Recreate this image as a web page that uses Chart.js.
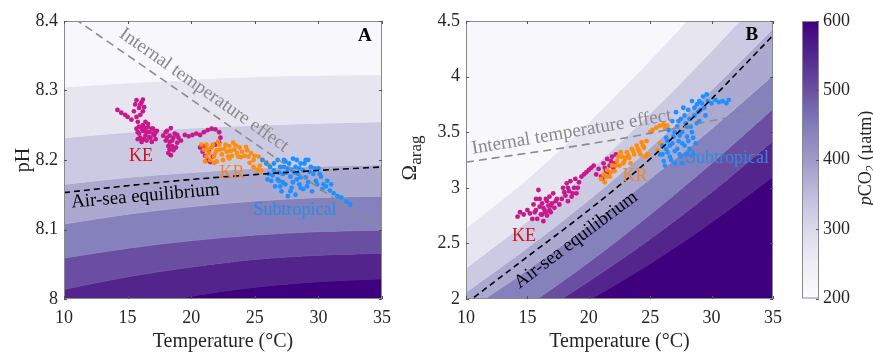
<!DOCTYPE html>
<html>
<head>
<meta charset="utf-8">
<script src="https://cdn.jsdelivr.net/npm/chart.js@4.4.1/dist/chart.umd.min.js"></script>
<style>
  body { margin: 0; background: #fff; }
  #wrap { position: relative; width: 873px; height: 353px; }
  canvas { position: absolute; top: 0; }
</style>
</head>
<body>
<div id="wrap">
  <canvas id="chartA" width="400" height="353" style="left:0"></canvas>
  <canvas id="chartB" width="390" height="353" style="left:400px"></canvas>
  <canvas id="chartC" width="83" height="353" style="left:790px"></canvas>
</div>
<script>
// temperature grid for the pCO2 contour boundaries
const temps = [10, 15, 20, 25, 30, 35];

// panel A: pH at each pCO2 contour (lowest pCO2 first)
const phLevel1 = [8.305, 8.311, 8.316, 8.320, 8.322, 8.323];
const phLevel2 = [8.232, 8.240, 8.246, 8.250, 8.253, 8.255];
const phLevel3 = [8.165, 8.175, 8.182, 8.188, 8.191, 8.193];
const phLevel4 = [8.108, 8.122, 8.133, 8.141, 8.146, 8.148];
const phLevel5 = [8.059, 8.073, 8.084, 8.092, 8.097, 8.099];
const phLevel6 = [8.014, 8.032, 8.046, 8.057, 8.063, 8.066];
const phLevel7 = [7.962, 7.985, 8.004, 8.017, 8.025, 8.029];

// panel B: aragonite saturation at the same contours
const omLevel1 = [2.637, 3.08, 3.59, 4.15, 4.74, 5.35];
const omLevel2 = [2.278, 2.70, 3.15, 3.67, 4.23, 4.83];
const omLevel3 = [2.06, 2.46, 2.89, 3.36, 3.88, 4.43];
const omLevel4 = [1.89, 2.26, 2.66, 3.08, 3.53, 4.01];
const omLevel5 = [1.58, 1.94, 2.33, 2.76, 3.22, 3.71];
const omLevel6 = [1.50, 1.81, 2.16, 2.54, 2.96, 3.42];
const omLevel7 = [1.20, 1.69, 1.99, 2.32, 2.69, 3.10];

// dashed reference lines
const eqA = [8.153, 8.163, 8.172, 8.179, 8.185, 8.190];
const eqB = [1.96, 2.38, 2.80, 3.26, 3.80, 4.37];
const itempA_T = [10, 35];
const itempA = [8.414, 8.097];
const itempB_T = [10, 22.5, 35];
const itempB = [3.23, 3.44, 3.715];

// observations [temperature, value]
const keA = [[14.2,8.272],[14.5,8.268],[14.8,8.265],[15.0,8.262],[15.3,8.258],[15.5,8.27],[15.6,8.28],[15.7,8.286],[15.9,8.275],[16.1,8.283],[16.2,8.287],[16.3,8.276],[16.0,8.265],[15.8,8.255],[16.0,8.28],[16.2,8.27],[15.7,8.262],
  [15.7,8.245],[15.9,8.238],[16.0,8.232],[16.2,8.25],[16.3,8.242],[16.4,8.235],[16.5,8.228],[16.6,8.247],[16.7,8.24],[16.8,8.232],[16.9,8.226],[17.0,8.245],[17.1,8.236],[17.2,8.23],[17.3,8.242],[16.1,8.226],[16.4,8.255],[15.8,8.23],
  [15.9,8.248],[16.2,8.242],[16.5,8.24],[16.7,8.233],[17.0,8.238],[16.3,8.23],[16.6,8.252],[16.9,8.245],[17.2,8.24],[15.8,8.24],[16.1,8.245],[16.4,8.246],
  [17.8,8.235],[18.0,8.228],[18.1,8.242],[18.2,8.22],[18.3,8.235],[18.4,8.246],[18.5,8.228],[18.6,8.214],[18.4,8.207],[18.7,8.238],[18.9,8.225],[19.0,8.232],[19.2,8.228],[18.2,8.21],[18.8,8.218],
  [18.0,8.24],[18.3,8.226],[18.6,8.232],[18.5,8.22],[18.9,8.236],[18.3,8.215],[18.1,8.232],
  [19.5,8.236],[19.8,8.234],[20.1,8.236],[20.4,8.238],[20.7,8.236],[21.0,8.24],[21.3,8.243],[21.6,8.245],[21.9,8.244],[22.2,8.24],[22.3,8.232],[22.2,8.225],[21.9,8.222],
  [20.7,8.218],[20.9,8.212],[21.1,8.206],[21.3,8.2],[21.5,8.197],[21.0,8.22],[21.4,8.212],[21.7,8.205]];
const krA = [[20.8,8.222],[21.0,8.215],[21.2,8.222],[21.4,8.21],[21.6,8.218],[21.8,8.205],[22.0,8.214],[22.2,8.222],[22.4,8.208],[22.6,8.216],[22.8,8.212],[23.0,8.22],[23.2,8.206],[23.4,8.215],[23.6,8.21],[23.8,8.218],[24.0,8.212],[24.2,8.206],[24.4,8.214],[24.7,8.21],[25.0,8.206],[25.3,8.205],[25.6,8.2],[25.9,8.197],[26.1,8.193],
  [24.6,8.196],[24.9,8.19],[25.2,8.186],[25.5,8.185],[21.5,8.2],[22.0,8.198],[22.5,8.2],[23.0,8.202],[21.2,8.205],[23.9,8.204],[22.1,8.226],[23.3,8.225],
  [21.3,8.216],[21.7,8.222],[22.3,8.215],[22.7,8.222],[23.1,8.213],[23.5,8.221],[23.7,8.205],[24.3,8.219],[24.5,8.205],[21.9,8.21],[22.9,8.205],[24.9,8.2],[25.4,8.192],[21.1,8.198],[21.8,8.196]];
const stA = [[25.6,8.2],[25.9,8.195],[26.2,8.19],[26.1,8.18],[26.5,8.185],[26.8,8.2],[27.0,8.19],[27.2,8.18],[27.4,8.198],[27.6,8.188],[27.8,8.176],[28.0,8.202],[28.2,8.19],[28.4,8.18],[28.6,8.195],[28.8,8.185],[29.0,8.175],[29.2,8.2],[29.4,8.19],[29.6,8.18],[29.8,8.17],[30.0,8.188],[30.2,8.176],[30.4,8.165],
  [26.3,8.17],[26.6,8.162],[26.9,8.17],[27.1,8.155],[27.4,8.165],[27.6,8.148],[27.9,8.16],[28.2,8.15],[28.5,8.165],[28.8,8.158],[29.1,8.162],[29.5,8.155],
  [30.6,8.162],[30.9,8.156],[31.2,8.152],[31.5,8.148],[31.8,8.146],[32.2,8.14],[32.5,8.136],[31.0,8.165],[30.7,8.17],
  [26.8,8.172],[27.2,8.168],[27.5,8.182],[28.0,8.168],[28.3,8.172],[29.2,8.168],[26.0,8.172],[28.6,8.175],
  [26.5,8.195],[26.9,8.182],[27.3,8.19],[27.7,8.195],[28.1,8.182],[28.5,8.188],[28.9,8.195],[29.3,8.183],[29.7,8.188],[30.1,8.18],[27.0,8.162],[27.8,8.155],[28.6,8.16],[26.4,8.178],[27.9,8.186],[29.0,8.2],[29.9,8.165],[30.3,8.158],[27.3,8.2],[28.3,8.2]];
const keB = [[14.2,2.74],[14.4,2.78],[14.7,2.76],[15.0,2.8],[15.2,2.77],[15.4,2.72],[15.5,2.85],[15.6,2.78],[15.7,2.9],[15.8,2.72],[15.9,2.98],[16.0,2.83],[16.1,2.76],[16.2,2.86],[16.3,2.7],[16.4,2.8],[16.5,2.9],[16.6,2.75],[16.7,2.84],[16.8,2.92],[16.9,2.78],[17.0,2.86],[17.1,2.95],[17.2,2.82],[17.4,2.9],[17.6,2.85],
  [16.0,2.9],[16.3,2.82],[16.6,2.88],[16.9,2.84],[16.2,2.76],[16.5,2.78],[17.3,2.88],[15.7,2.8],[16.8,2.8],
  [17.8,2.9],[17.9,3.0],[18.1,2.93],[18.2,3.04],[18.3,2.88],[18.4,2.97],[18.5,3.06],[18.6,2.92],[18.8,3.0],[18.9,3.08],[19.0,2.95],[19.2,3.05],[18.0,2.96],[18.7,2.95],[18.3,3.0],[19.1,3.0],
  [19.4,3.1],[19.6,3.12],[19.8,3.14],[20.0,3.16],[20.2,3.18],[20.4,3.2],
  [20.6,3.12],[20.8,3.17],[21.0,3.1],[21.2,3.22],[21.4,3.15],[21.5,3.26],[21.7,3.2],[21.9,3.28],[22.1,3.22],[22.2,3.3],[21.1,3.08],[21.3,3.18],[21.6,3.14],[21.8,3.24],[22.0,3.18]];
const krB = [[21.0,3.08],[21.2,3.12],[21.3,3.05],[21.5,3.16],[21.7,3.1],[21.9,3.2],[22.1,3.15],[22.3,3.24],[22.5,3.2],[22.7,3.28],[22.9,3.24],[23.1,3.32],[23.3,3.27],[23.5,3.35],[23.7,3.3],[23.9,3.38],[24.1,3.33],[24.3,3.41],[24.5,3.36],[24.7,3.42],[24.8,3.3],[24.6,3.28],[23.4,3.22],[22.6,3.32],
  [21.4,3.1],[21.8,3.14],[22.2,3.2],[22.4,3.28],[22.8,3.22],[23.2,3.29],[23.6,3.33],[24.0,3.35],[24.4,3.38],[23.0,3.27],[24.2,3.3],
  [25.0,3.5],[25.2,3.52],[25.5,3.54],[25.8,3.56],[26.1,3.57],[26.2,3.54],[26.4,3.56],[25.6,3.34],[25.8,3.4]];
const stB = [[25.8,3.3],[26.0,3.38],[26.1,3.24],[26.3,3.45],[26.4,3.32],[26.5,3.52],[26.6,3.38],[26.7,3.25],[26.8,3.6],[26.9,3.46],[27.0,3.33],[27.1,3.68],[27.2,3.55],[27.3,3.42],[27.4,3.3],[27.5,3.62],[27.6,3.5],[27.7,3.72],[27.8,3.38],[27.9,3.58],[28.0,3.46],[28.1,3.7],[28.2,3.35],[28.3,3.55],[28.4,3.78],[28.5,3.45],[28.6,3.65],[28.7,3.4],[28.8,3.75],[29.0,3.6],[29.1,3.7],[29.3,3.82],[29.4,3.72],[29.5,3.65],
  [26.0,3.3],[26.4,3.42],[26.6,3.28],[27.0,3.5],[27.3,3.6],[27.6,3.4],[27.8,3.65],[28.0,3.55],[28.2,3.62],[28.4,3.5],[28.6,3.72],[28.8,3.58],[29.0,3.78],[27.2,3.35],[27.9,3.3],[26.8,3.4],[28.9,3.68],[29.2,3.76],[26.3,3.35],[27.4,3.47],[28.1,3.42],
  [29.7,3.78],[30.0,3.76],[30.3,3.79],[30.6,3.77],[30.9,3.78],[31.2,3.76],[31.4,3.79],
  [27.6,3.22],[27.5,3.28],[28.5,3.3],[27.0,3.22],[26.2,3.2],[29.6,3.84]];

// colour bar
const pco2Ticks = [200, 300, 400, 500, 600];

const bandColors = ['#f8f7fb', '#e7e5f0', '#cbcae2', '#aba9cf', '#8481bc', '#6a4ea1', '#53258c', '#3f007d'];
const purples = ['#fcfbfd', '#efedf5', '#dadaeb', '#bcbddc', '#9e9ac8', '#807dba', '#6a51a3', '#54278f', '#3f007d'];
const FONT = "'Liberation Serif', 'Times New Roman', serif";
const INK = '#262626';

function pts(xs, ys) { return xs.map((x, i) => ({ x: x, y: ys[i] })); }
function pairs(arr) { return arr.map(p => ({ x: p[0], y: p[1] })); }

function bandSets(levels) {
    const sets = levels.map((lv, i) => ({
        data: pts(temps, lv),
        fill: i === 0 ? 'end' : '-1',
        backgroundColor: bandColors[i],
        borderColor: bandColors[i],
        borderWidth: 1,
        pointRadius: 0,
        cubicInterpolationMode: 'monotone',
        order: 3
    }));
    const n = levels.length;
    sets.push({
        data: pts(temps, levels[n - 1]),
        fill: 'start',
        backgroundColor: bandColors[n],
        borderColor: bandColors[n],
        borderWidth: 1,
        pointRadius: 0,
        cubicInterpolationMode: 'monotone',
        order: 3
    });
    return sets;
}

function cloud(arr, color) {
    return {
        data: pairs(arr), showLine: false, pointRadius: 2.4, pointBorderWidth: 0,
        pointBackgroundColor: color, backgroundColor: color, borderColor: color, order: 2
    };
}

function dashed(xs, ys, color, dash) {
    return {
        data: pts(xs, ys), borderColor: color, borderWidth: 1.6, borderDash: dash,
        pointRadius: 0, fill: false, cubicInterpolationMode: 'monotone', order: 1
    };
}

// text, box and inward ticks drawn on top of the plot
function decor(notes, drawTitles) {
    return {
        id: 'decor',
        afterDatasetsDraw(chart) {
            const { ctx, chartArea: a, scales } = chart;
            const x = scales.x, y = scales.y;
            ctx.save();
            notes.forEach(n => {
                ctx.save();
                ctx.translate(x.getPixelForValue(n.x), y.getPixelForValue(n.y));
                ctx.rotate((n.rot || 0) * Math.PI / 180);
                ctx.font = (n.bold ? 'bold ' : '') + n.size + 'px ' + FONT;
                ctx.fillStyle = n.color;
                ctx.textAlign = 'center';
                ctx.textBaseline = 'middle';
                ctx.fillText(n.t, 0, 0);
                ctx.restore();
            });
            ctx.strokeStyle = '#8a8a8a';
            ctx.lineWidth = 1;
            ctx.strokeRect(a.left + 0.5, a.top + 0.5, a.width - 1, a.height - 1);
            ctx.strokeStyle = '#555';
            ctx.beginPath();
            x.ticks.forEach(t => {
                const px = Math.round(x.getPixelForValue(t.value)) + 0.5;
                ctx.moveTo(px, a.bottom); ctx.lineTo(px, a.bottom - 3);
                ctx.moveTo(px, a.top); ctx.lineTo(px, a.top + 3);
            });
            y.ticks.forEach(t => {
                const py = Math.round(y.getPixelForValue(t.value)) + 0.5;
                ctx.moveTo(a.left, py); ctx.lineTo(a.left + 3, py);
                ctx.moveTo(a.right, py); ctx.lineTo(a.right - 3, py);
            });
            ctx.stroke();
            ctx.restore();
        },
        afterDraw(chart) {
            const ctx = chart.ctx;
            ctx.save();
            ctx.fillStyle = INK;
            drawTitles(ctx, chart.chartArea);
            ctx.restore();
        }
    };
}

function panel(id, datasets, yMin, yMax, yStep, yWidth, padRight, notes, drawTitles) {
    return new Chart(document.getElementById(id), {
        type: 'line',
        data: { datasets: datasets },
        options: {
            responsive: false,
            animation: false,
            devicePixelRatio: 1,
            layout: { padding: { left: 0, right: padRight, top: 21, bottom: 0 } },
            plugins: { legend: { display: false }, tooltip: { enabled: false } },
            scales: {
                x: {
                    type: 'linear', min: 10, max: 35,
                    grid: { display: false, drawTicks: false }, border: { display: false },
                    ticks: { stepSize: 5, padding: 8, color: INK, font: { family: FONT, size: 18 } },
                    afterFit: s => { s.height = 54; }
                },
                y: {
                    type: 'linear', min: yMin, max: yMax,
                    grid: { display: false, drawTicks: false }, border: { display: false },
                    ticks: {
                        stepSize: yStep, padding: 6, color: INK, font: { family: FONT, size: 18 },
                        callback: v => String(+v.toFixed(1))
                    },
                    afterFit: s => { s.width = yWidth; }
                }
            }
        },
        plugins: [decor(notes, drawTitles)]
    });
}

const mag = '#c8198a', org = '#ff8c0a', blu = '#1e90ff';

// Panel A
const setsA = bandSets([phLevel1, phLevel2, phLevel3, phLevel4, phLevel5, phLevel6, phLevel7]).concat([
    cloud(stA, blu), cloud(krA, org), cloud(keA, mag),
    dashed(itempA_T, itempA, '#8c8c8c', [8, 5]),
    dashed(temps, eqA, '#000', [6, 4])
]);
panel('chartA', setsA, 8, 8.4, 0.1, 64, 18, [
    { t: 'Internal temperature effect', x: 21.0, y: 8.3005, rot: 35, color: '#8a8a8a', size: 19 },
    { t: 'Air-sea equilibrium', x: 16.4, y: 8.148, rot: -5, color: '#000', size: 19 },
    { t: 'KE', x: 16.05, y: 8.2055, color: '#cc1122', size: 18 },
    { t: 'KR', x: 23.2, y: 8.181, color: '#f0852a', size: 18 },
    { t: 'Subtropical', x: 28.16, y: 8.128, color: '#2a8ee0', size: 18 },
    { t: 'A', x: 33.66, y: 8.379, color: '#000', size: 19, bold: true }
], (ctx, a) => {
    ctx.font = '20px ' + FONT;
    ctx.textAlign = 'center';
    ctx.textBaseline = 'middle';
    ctx.fillText('Temperature (°C)', (a.left + a.right) / 2, 342);
    ctx.save();
    ctx.translate(24, (a.top + a.bottom) / 2);
    ctx.rotate(-Math.PI / 2);
    ctx.fillText('pH', 0, 0);
    ctx.restore();
});

// Panel B
const setsB = bandSets([omLevel1, omLevel2, omLevel3, omLevel4, omLevel5, omLevel6, omLevel7]).concat([
    cloud(stB, blu), cloud(krB, org), cloud(keB, mag),
    dashed(itempB_T, itempB, '#8c8c8c', [8, 5]),
    dashed(temps, eqB, '#000', [6, 4])
]);
panel('chartB', setsB, 2, 4.5, 0.5, 66, 6, [
    { t: 'Internal temperature effect', x: 18.6, y: 3.50, rot: -9.5, color: '#8a8a8a', size: 19 },
    { t: 'Air-sea equilibrium', x: 18.96, y: 2.532, rot: -37, color: '#000', size: 19 },
    { t: 'KE', x: 14.72, y: 2.568, color: '#cc1122', size: 18 },
    { t: 'KR', x: 23.76, y: 3.107, color: '#f0852a', size: 18 },
    { t: 'Subtropical', x: 31.3, y: 3.268, color: '#2a8ee0', size: 18 },
    { t: 'B', x: 33.27, y: 4.37, color: '#000', size: 19, bold: true }
], (ctx, a) => {
    ctx.font = '20px ' + FONT;
    ctx.textAlign = 'center';
    ctx.textBaseline = 'middle';
    ctx.fillText('Temperature (°C)', (a.left + a.right) / 2, 342);
    ctx.save();
    ctx.translate(10, 158);
    ctx.rotate(-Math.PI / 2);
    ctx.textAlign = 'left';
    ctx.font = '21px ' + FONT;
    const w1 = ctx.measureText('Ω').width;
    ctx.font = '17px ' + FONT;
    const w2 = ctx.measureText('arag').width;
    const x0 = -(w1 + w2) / 2;
    ctx.font = '21px ' + FONT;
    ctx.fillText('Ω', x0, 0);
    ctx.font = '17px ' + FONT;
    ctx.fillText('arag', x0 + w1, 7);
    ctx.restore();
});

// Colour bar
new Chart(document.getElementById('chartC'), {
    type: 'bar',
    data: {
        labels: ['pCO2'],
        datasets: [{
            data: [[pco2Ticks[0], pco2Ticks[pco2Ticks.length - 1]]],
            barPercentage: 1, categoryPercentage: 1, borderWidth: 0,
            backgroundColor: c => {
                const a = c.chart.chartArea;
                if (!a) return purples[4];
                const g = c.chart.ctx.createLinearGradient(0, a.bottom, 0, a.top);
                purples.forEach((col, i) => g.addColorStop(i / (purples.length - 1), col));
                return g;
            }
        }]
    },
    options: {
        responsive: false,
        animation: false,
        devicePixelRatio: 1,
        layout: { padding: { left: 12, right: 0, top: 21, bottom: 54.5 } },
        plugins: { legend: { display: false }, tooltip: { enabled: false } },
        scales: {
            x: { display: false },
            y: {
                position: 'right', min: 200, max: 600,
                grid: { display: false, drawTicks: false }, border: { display: false },
                ticks: { stepSize: 100, padding: 4, color: INK, font: { family: FONT, size: 18 } },
                afterFit: s => { s.width = 54; }
            }
        }
    },
    plugins: [{
        id: 'cbar',
        afterDraw(chart) {
            const { ctx, chartArea: a, scales: { y } } = chart;
            ctx.save();
            ctx.strokeStyle = '#8a8a8a';
            ctx.lineWidth = 1;
            ctx.strokeRect(a.left + 0.5, a.top + 0.5, a.width - 1, a.height - 1);
            ctx.strokeStyle = '#555';
            ctx.beginPath();
            pco2Ticks.forEach(v => {
                const py = Math.round(y.getPixelForValue(v)) + 0.5;
                ctx.moveTo(a.right, py); ctx.lineTo(a.right - 3, py);
            });
            ctx.stroke();
            // rotated title: pCO2 (µatm)
            ctx.fillStyle = INK;
            ctx.translate(76, 158);
            ctx.rotate(-Math.PI / 2);
            ctx.textBaseline = 'middle';
            ctx.textAlign = 'left';
            const parts = [
                { s: 'p', f: 'italic 18px ' + FONT, dy: 0 },
                { s: 'CO', f: '18px ' + FONT, dy: 0 },
                { s: '2', f: '13px ' + FONT, dy: 5 },
                { s: ' (µatm)', f: '18px ' + FONT, dy: 0 }
            ];
            let total = 0;
            parts.forEach(p => { ctx.font = p.f; p.w = ctx.measureText(p.s).width; total += p.w; });
            let cx = -total / 2;
            parts.forEach(p => { ctx.font = p.f; ctx.fillText(p.s, cx, p.dy); cx += p.w; });
            ctx.restore();
        }
    }]
});
</script>
</body>
</html>
